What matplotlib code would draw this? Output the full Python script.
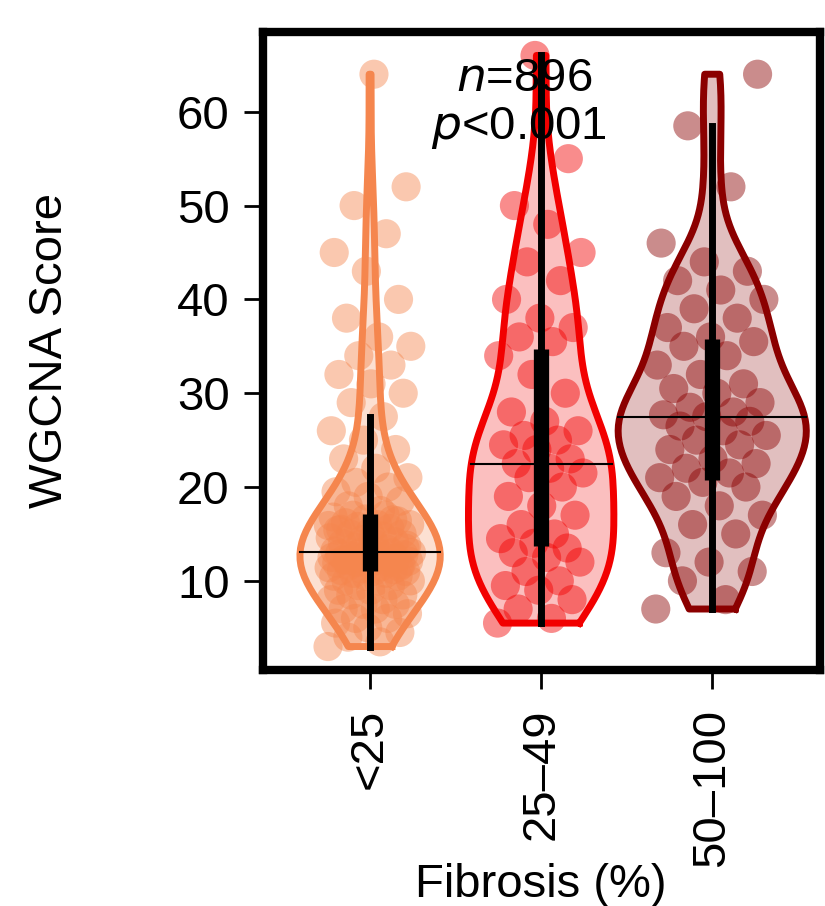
import numpy as np
import matplotlib.pyplot as plt

plt.rcParams["font.family"] = "Liberation Sans"

categories = ["<25", "25\u201349", "50\u2013100"]
g1 = [3, 3.5, 4, 4.5, 5, 5.5, 6, 6, 6.5, 7, 7, 7.5, 7.5, 8, 8, 8.5, 8.5, 9, 9, 9.5,
      9.5, 10, 10, 10, 10.5, 10.5, 10.5, 10.8, 10.8, 11,
      11, 11.1, 11.2, 11.3, 11.4, 11.5, 11.6, 11.7, 11.8, 11.9, 12, 12, 12.1, 12.2, 12.3,
      12.4, 12.5, 12.5, 12.6, 12.7, 12.8, 12.9, 12.9, 13, 13, 13, 13, 12.2, 11.5, 12.8,
      13.2, 13.4, 13.6, 13.8, 14, 14, 14.2, 14.4, 14.6, 14.8, 15, 15, 15.2, 15.4, 15.6,
      15.8, 16, 16, 16.2, 16.4, 16.6, 16.8, 17, 17, 13.5, 14.5, 15.5, 16.5, 13.9, 15.9,
      17.5, 18, 18.5, 19, 19.5, 20, 20.5, 21, 22, 23, 24, 25, 26, 27.5, 29, 30, 31, 32,
      33, 34, 35, 36, 38, 40, 43, 45, 47, 50, 52, 64]
g2 = [5.5, 6, 7, 8, 9, 9.5, 10, 11, 12, 12.5, 13, 13.5, 14, 14.5, 15, 16, 17, 18, 19, 20,
      21, 21.5, 22, 22.5, 23, 24, 24.5, 25, 25.5, 26, 27, 28, 30, 32, 34, 35.5, 36, 37, 38,
      40, 42, 44, 45, 48, 50, 55, 66]
g3 = [7, 8, 10, 11, 12, 13, 15, 16, 17, 18, 19, 20, 20.5, 21, 21.5, 22, 22.5, 23, 24, 24.5,
      25, 25.5, 26, 26.5, 27, 27.5, 27.7, 28, 28.5, 29, 30, 30.5, 31, 32, 33, 34, 35, 35.5,
      36, 37, 38, 39, 40, 41, 42, 43, 44, 46, 52, 58.5, 64]
groups = [g1, g2, g3]
colors = ["#F5864E", "#F20000", "#8B0000"]
widths = [0.82, 0.85, 1.1]
bws = [0.45, 0.35, 0.3]

fig = plt.figure(figsize=(8.25, 9.06), dpi=100)
ax = fig.add_axes([263/825, 1-670/906, 557/825, 638/906])

for i, (vals, col, w, bw) in enumerate(zip(groups, colors, widths, bws)):
    pos = i + 1
    vals = np.array(vals, dtype=float)
    vp = ax.violinplot(vals, positions=[pos], widths=w, showextrema=False, bw_method=bw)
    for b in vp["bodies"]:
        b.set_facecolor(col)
        b.set_alpha(0.25)
        b.set_edgecolor("none")
        verts = b.get_paths()[0].vertices
    ax.plot(verts[:, 0], verts[:, 1], color=col, lw=5, zorder=3)
    # deterministic jitter
    jit = ((np.arange(len(vals)) * 0.618034) % 1 - 0.5) * w * 0.6
    ax.scatter(pos + jit, vals, s=440, color=col, alpha=0.45, edgecolors="none", zorder=2)
    q1, med, q3 = np.percentile(vals, [25, 50, 75])
    iqr = q3 - q1
    lo = vals[vals >= q1 - 1.5 * iqr].min()
    hi = vals[vals <= q3 + 1.7 * iqr].max()
    ax.plot([pos, pos], [lo, hi], color="black", lw=5, zorder=4)
    ax.plot([pos, pos], [q1, q3], color="black", lw=11, zorder=4, solid_capstyle="butt")
    near = verts[np.abs(verts[:, 1] - med) < 1.0]
    ax.plot([near[:, 0].min(), near[:, 0].max()], [med, med], color="black", lw=1.5, zorder=4)

ax.set_xlim(0.374, 3.63)
ax.set_ylim(0.5, 68.5)
ax.set_yticks([10, 20, 30, 40, 50, 60])
ax.set_xticks([1, 2, 3])
ax.set_xticklabels(categories, rotation=90, fontsize=34)
ax.tick_params(axis="y", labelsize=34, width=2, length=14, pad=10)
ax.tick_params(axis="x", width=2, length=14, pad=14)
for s in ax.spines.values():
    s.set_linewidth(6)
fig.text(50/825, 1-350/906, "WGCNA Score", fontsize=34, rotation=90, ha="center", va="center")
fig.text(541/825, 1-885/906, "Fibrosis (%)", fontsize=34, ha="center", va="center")
ax.text(1.9, 63.5, r"$n$=896", fontsize=34, ha="center", va="center")
ax.text(1.87, 58.3, r"$p$<0.001", fontsize=34, ha="center", va="center")

fig.savefig("out.png", dpi=100)
